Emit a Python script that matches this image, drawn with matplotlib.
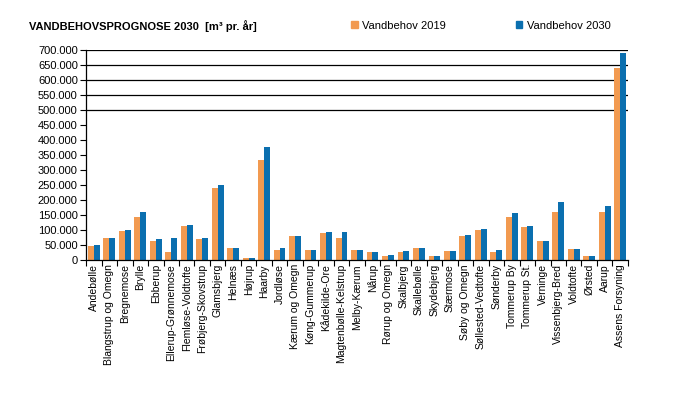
import numpy as np
import matplotlib.pyplot as plt
from matplotlib.ticker import FuncFormatter
from matplotlib.patches import Patch

plt.rcParams['font.family'] = ['Liberation Sans', 'DejaVu Sans']
plt.rcParams['font.size'] = 8

names = ['Andebølle', 'Blangstrup og Omegn', 'Bregnemose', 'Brylle', 'Ebberup',
         'Ellerup-Grønnemose', 'Flemløse-Voldtofte', 'Frøbjerg-Skovstrup', 'Glamsbjerg',
         'Helnæs', 'Højrup', 'Haarby', 'Jordløse', 'Kærum og Omegn', 'Køng-Gummerup',
         'Kådekilde-Ore', 'Magtenbølle-Kelstrup', 'Melby-Kærum', 'Nårup', 'Rørup og Omegn',
         'Skalbjerg', 'Skallebølle', 'Skydebjerg', 'Stærmose', 'Søby og Omegn',
         'Søllested-Vedtofte', 'Sønderby', 'Tommerup By', 'Tommerup St.', 'Verninge',
         'Vissenbjerg-Bred', 'Voldtofte', 'Ørsted', 'Aarup', 'Assens Forsyning']
v2019 = [47000, 73000, 97000, 143000, 63000, 27000, 113000, 70000, 240000,
         40000, 7000, 333000, 33000, 80000, 33000, 90000, 73000, 33000, 27000, 13000,
         27000, 40000, 13000, 30000, 80000, 100000, 27000, 143000, 110000, 63000,
         160000, 37000, 13000, 160000, 640000]
v2030 = [50000, 73000, 100000, 160000, 70000, 73000, 117000, 73000, 250000,
         40000, 7000, 377000, 40000, 80000, 33000, 93000, 93000, 33000, 27000, 17000,
         30000, 40000, 13000, 30000, 83000, 103000, 33000, 157000, 113000, 63000,
         193000, 37000, 13000, 180000, 690000]
grid_levels = [500000, 550000, 600000, 650000, 700000]

c19 = '#F29A50'
c30 = '#0B6FAF'

fig = plt.figure(figsize=(7, 3.95), dpi=100)
ax = fig.add_axes([0.123, 0.342, 0.774, 0.531])

x = np.arange(len(names))
w = 0.38
for g in grid_levels:
    ax.axhline(g, color='black', lw=0.9, zorder=1)
ax.bar(x - w / 2, v2019, width=w, color=c19, zorder=2)
ax.bar(x + w / 2, v2030, width=w, color=c30, zorder=2)

ax.set_xlim(-0.5, len(names) - 0.5)
ax.set_ylim(0, 700000)
ax.set_yticks(np.arange(0, 700001, 50000))
ax.yaxis.set_major_formatter(FuncFormatter(lambda v, p: f'{int(v):,}'.replace(',', '.')))
ax.set_xticks(x)
ax.set_xticklabels(names, rotation=90, fontsize=7.5)
ax.set_xticks(np.arange(-0.5, len(names), 1), minor=True)
ax.tick_params(axis='x', which='major', length=0, pad=3)
ax.tick_params(axis='x', which='minor', length=4, width=0.8)
ax.tick_params(axis='y', length=4, width=0.8, pad=2)
for s in ['top', 'right']:
    ax.spines[s].set_visible(False)
for s in ['left', 'bottom']:
    ax.spines[s].set_linewidth(0.9)

fig.text(0.041, 0.935, 'VANDBEHOVSPROGNOSE 2030  [m³ pr. år]', fontsize=8,
         fontweight='bold', va='center')
handles = [Patch(color=c19, label='Vandbehov 2019'), Patch(color=c30, label='Vandbehov 2030')]
fig.legend(handles=handles, loc='center left', bbox_to_anchor=(0.487, 0.935), ncol=2,
           frameon=False, handlelength=0.6, handleheight=0.6, handletextpad=0.4,
           columnspacing=6.3, fontsize=8)

fig.savefig('out.png', dpi=100)
